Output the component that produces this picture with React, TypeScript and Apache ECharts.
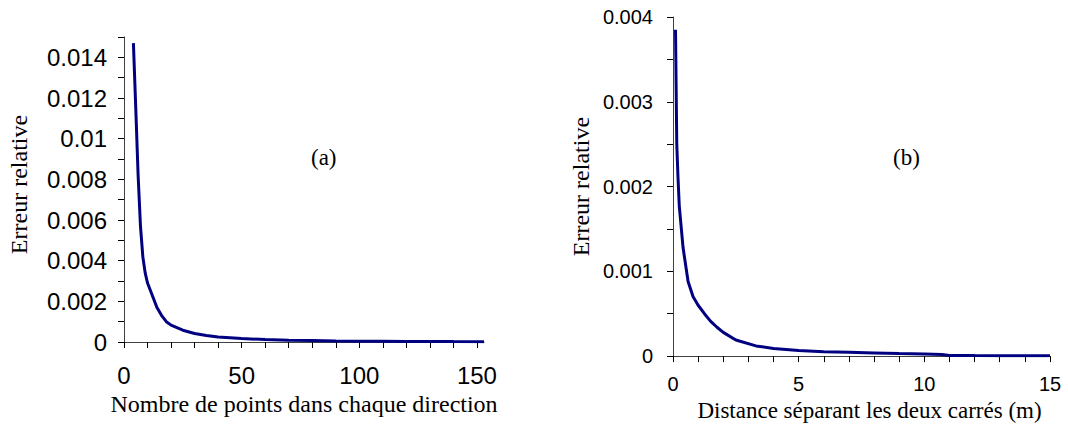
import React, { useEffect, useRef } from "react";
import * as echarts from "echarts";

// Left chart (a)
const pointsA = [4, 5, 6, 7, 8, 9, 10, 12, 14, 16, 18, 20, 25, 30, 35, 40, 50, 60, 70, 80, 90, 100, 110, 120, 130, 140, 153];
const errorA = [0.0147, 0.0115, 0.0082, 0.0057, 0.0042, 0.0034, 0.0029, 0.0023, 0.0017, 0.0013, 0.001, 0.00083, 0.00058, 0.00042, 0.00032, 0.00025, 0.00017, 0.00012, 0.00009, 0.00007, 0.00005, 0.00004, 0.000035, 0.00003, 0.000025, 0.00002, 0.000015];
const xTicksA = [0, 10, 20, 30, 40, 50, 60, 70, 80, 90, 100, 110, 120, 130, 140, 150];
const xLabelsA = [0, 50, 100, 150];
const yTicksA = [0, 0.001, 0.002, 0.003, 0.004, 0.005, 0.006, 0.007, 0.008, 0.009, 0.01, 0.011, 0.012, 0.013, 0.014, 0.015];
const yLabelsA = [0, 0.002, 0.004, 0.006, 0.008, 0.01, 0.012, 0.014];

// Right chart (b)
const distanceB = [0.1, 0.15, 0.2, 0.25, 0.4, 0.6, 0.8, 1.0, 1.25, 1.5, 1.75, 2, 2.5, 3.3, 4, 5, 6, 7, 8, 9, 10, 10.7, 11, 12, 13, 14, 15];
const errorB = [0.00385, 0.0025, 0.0021, 0.00177, 0.00128, 0.00088, 0.0007, 0.0006, 0.0005, 0.00041, 0.00034, 0.00028, 0.00019, 0.00012, 0.00009, 0.000065, 0.00005, 0.000045, 0.000038, 0.00003, 0.000025, 0.00002, 0.000008, 0.000006, 0.000005, 0.000004, 0.000003];
const xTicksB = [0, 1, 2, 3, 4, 5, 6, 7, 8, 9, 10, 11, 12, 13, 14, 15];
const xLabelsB = [0, 5, 10, 15];
const yTicksB = [0, 0.0005, 0.001, 0.0015, 0.002, 0.0025, 0.003, 0.0035, 0.004];
const yLabelsB = [0, 0.001, 0.002, 0.003, 0.004];

const SANS = "'Liberation Sans', Arial, sans-serif";
const SERIF = "'Liberation Serif', 'Times New Roman', serif";

export default function App() {
  const ref = useRef<HTMLDivElement>(null);
  useEffect(() => {
    if (!ref.current) return;
    const chart = echarts.init(ref.current, undefined, { renderer: "svg" });
    const axisLine = { show: true, lineStyle: { color: "#404040", width: 1 } };
    const tick = (vals: number[]) => ({
      show: true,
      inside: false,
      length: 6,
      customValues: vals,
      lineStyle: { color: "#000", width: 1 },
    });
    const label = (vals: number[], size: number, margin: number) => ({
      show: true,
      customValues: vals,
      fontFamily: SANS,
      fontSize: size,
      color: "#000",
      margin,
      showMaxLabel: true,
      showMinLabel: true,
    });
    chart.setOption({
      animation: false,
      backgroundColor: "#fff",
      grid: [
        { left: 124, top: 37, width: 360, height: 305 },
        { left: 673, top: 17, width: 377, height: 340 },
      ],
      xAxis: [
        {
          gridIndex: 0,
          type: "value",
          min: 0,
          max: 153,
          axisLine,
          axisTick: tick(xTicksA),
          axisLabel: label(xLabelsA, 24, 21),
          splitLine: { show: false },
          name: "Nombre de points dans chaque direction",
          nameLocation: "middle",
          nameGap: 43,
          nameTextStyle: { fontFamily: SERIF, fontSize: 24, color: "#000" },
        },
        {
          gridIndex: 1,
          type: "value",
          min: 0,
          max: 15,
          axisLine,
          axisTick: tick(xTicksB),
          axisLabel: label(xLabelsB, 20, 18),
          splitLine: { show: false },
          name: "Distance séparant les deux carrés (m)",
          nameLocation: "middle",
          nameGap: 42,
          nameTextStyle: { fontFamily: SERIF, fontSize: 23, color: "#000", padding: [0, 0, 0, 16] },
        },
      ],
      yAxis: [
        {
          gridIndex: 0,
          type: "value",
          min: 0,
          max: 0.015,
          axisLine,
          axisTick: tick(yTicksA),
          axisLabel: label(yLabelsA, 24, 17),
          splitLine: { show: false },
          name: "Erreur relative",
          nameLocation: "middle",
          nameGap: 93,
          nameTextStyle: { fontFamily: SERIF, fontSize: 24, color: "#000", padding: [0, 0, 0, 10] },
        },
        {
          gridIndex: 1,
          type: "value",
          min: 0,
          max: 0.004,
          axisLine,
          axisTick: tick(yTicksB),
          axisLabel: label(yLabelsB, 20, 20),
          splitLine: { show: false },
          name: "Erreur relative",
          nameLocation: "middle",
          nameGap: 80,
          nameTextStyle: { fontFamily: SERIF, fontSize: 24, color: "#000" },
        },
      ],
      graphic: [
        {
          type: "text",
          left: 311,
          top: 146,
          style: { text: "(a)", font: `23px ${SERIF}`, fill: "#000" },
        },
        {
          type: "text",
          left: 893,
          top: 146,
          style: { text: "(b)", font: `23px ${SERIF}`, fill: "#000" },
        },
      ],
      series: [
        {
          type: "line",
          xAxisIndex: 0,
          yAxisIndex: 0,
          data: pointsA.map((x, i) => [x, errorA[i]]),
          showSymbol: false,
          lineStyle: { color: "#000080", width: 3 },
          itemStyle: { color: "#000080" },
        },
        {
          type: "line",
          xAxisIndex: 1,
          yAxisIndex: 1,
          data: distanceB.map((x, i) => [x, errorB[i]]),
          showSymbol: false,
          lineStyle: { color: "#000080", width: 3 },
          itemStyle: { color: "#000080" },
        },
      ],
    });
    return () => chart.dispose();
  }, []);
  return (
    <div
      ref={ref}
      style={{ position: "absolute", left: 0, top: 0, width: 1068, height: 427 }}
    />
  );
}
